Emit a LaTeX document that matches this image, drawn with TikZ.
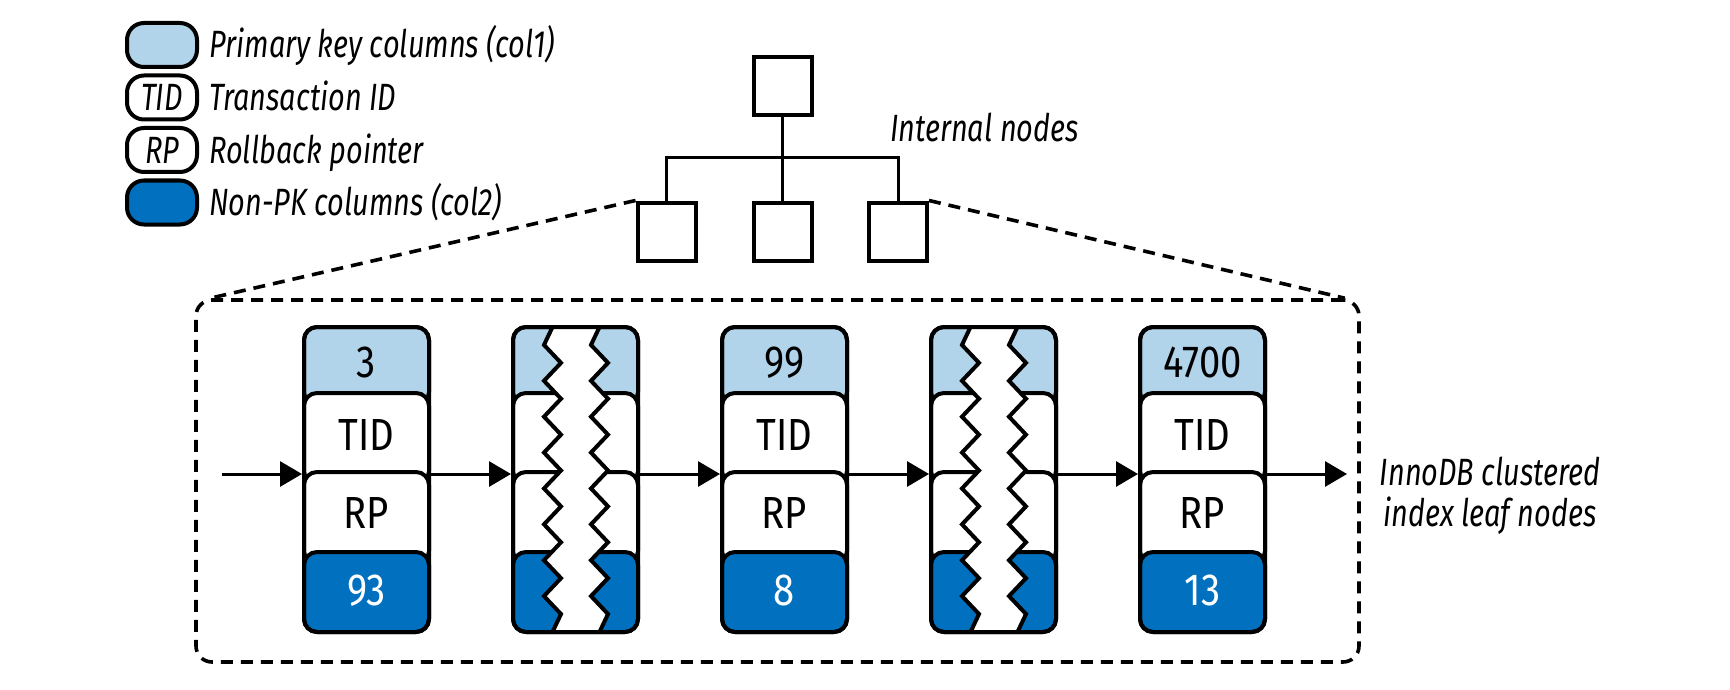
\documentclass[tikz,border=0pt]{standalone}
\usepackage{fontspec}
\setmainfont[FakeStretch=0.85]{Fira Sans}
\newfontfamily\labfam[FakeStretch=0.76]{Fira Sans}
\usetikzlibrary{arrows.meta,positioning}
\definecolor{pkblue}{HTML}{B2D4EB}
\definecolor{colblue}{HTML}{0070BF}
\newcommand{\cellfont}{\fontsize{22.5pt}{25pt}\selectfont}
\newcommand{\labfont}{\labfam\fontsize{19pt}{20.5pt}\selectfont\itshape}

% leaf record: index, left edge, key, col2
\newcommand{\leafrec}[4]{
	\draw[cell, fill=pkblue] (#2,327) rectangle ++(125,78);
	\draw[cell, fill=white] (#2,393) rectangle ++(125,91);
	\draw[cell, fill=white] (#2,472) rectangle ++(125,92);
	\draw[cell, fill=colblue] (#2,552) rectangle ++(125,80);
	\node[rec] (rec#1) at (#2+62.5,479.5) {};
	\node[celltxt] (key#1) at (#2+62.5,362) {#3};
	\node[celltxt] (tid#1) at (#2+62.5,435) {TID};
	\node[celltxt] (rp#1) at (#2+62.5,512.5) {RP};
	\node[celltxt, text=white] (col#1) at (#2+62.5,590) {#4};
}

% record cut out by a zigzag gap: index, left edge
\newcommand{\gaprec}[2]{
	\draw[cell, fill=pkblue] (#2,327) rectangle ++(125,78);
	\draw[cell, fill=white] (#2,393) rectangle ++(125,91);
	\draw[cell, fill=white] (#2,472) rectangle ++(125,92);
	\draw[cell, fill=colblue] (#2,552) rectangle ++(125,80);
	\fill[white] (#2+39.5,327) \foreach \k in {1,...,16} {-- ({#2+ifthenelse(isodd(\k),31,48)},{327+\k*17.94})} -- (#2+39.5,632)
		-- (#2+86.5,632) \foreach \k in {16,...,1} {-- ({#2+ifthenelse(isodd(\k),78,95)},{327+\k*17.94})} -- (#2+86.5,327) -- cycle;
	\draw[zig] (#2+39.5,327) \foreach \k in {1,...,16} {-- ({#2+ifthenelse(isodd(\k),31,48)},{327+\k*17.94})} -- (#2+39.5,632);
	\draw[zig] (#2+86.5,327) \foreach \k in {1,...,16} {-- ({#2+ifthenelse(isodd(\k),78,95)},{327+\k*17.94})} -- (#2+86.5,632);
	\node[rec] (rec#1) at (#2+62.5,479.5) {};
}

\begin{document}
\begin{tikzpicture}[x=0.5pt, y=-0.5pt, every node/.style={inner sep=0pt},
	cell/.style={draw, line width=2pt, rounded corners=6.5pt},
	rec/.style={draw, line width=2pt, rounded corners=6.5pt, minimum width=62.5pt, minimum height=152.5pt},
	celltxt/.style={font=\cellfont, text height=15.5pt, text depth=0pt},
	zig/.style={line width=2pt},
	link/.style={line width=1.5pt, -{Triangle[length=11pt,width=12.5pt]}},
	tnode/.style={draw, line width=2pt, minimum size=29pt},
	branch/.style={line width=1.5pt},
	leafframe/.style={draw, line width=1.8pt, dash pattern=on 6pt off 4pt, rounded corners=8pt, minimum width=581.5pt, minimum height=181pt},
	zoomline/.style={line width=1.8pt, dash pattern=on 6pt off 4pt},
	keybox/.style={draw, line width=2pt, rounded corners=8.5pt, minimum width=35pt, minimum height=22pt, font=\labfont, text height=13pt, text depth=0pt},
	lab/.style={font=\labfont, text height=13pt, text depth=0pt}]
	\useasboundingbox (0,0) rectangle (1730,690);

	% Legend
	\node[keybox, fill=pkblue] (lgpk) at (162,45) {};
	\node[keybox] (lgtid) at (162,97.5) {TID};
	\node[keybox] (lgrp) at (162,150) {RP};
	\node[keybox, fill=colblue] (lgcol) at (162,202.5) {};
	\node[lab, right=5pt of lgpk] (pktxt) {Primary key columns (col1)};
	\node[lab, right=5pt of lgtid] (tidtxt) {Transaction ID};
	\node[lab, right=5pt of lgrp] (rptxt) {Rollback pointer};
	\node[lab, right=5pt of lgcol] (coltxt) {Non-PK columns (col2)};

	% Internal nodes
	\node[tnode] (root) at (782.5,86.5) {};
	\node[tnode] (leafa) at (666.5,231.5) {};
	\node[tnode] (leafb) at (782.5,231.5) {};
	\node[tnode] (leafc) at (898,231.5) {};
	\coordinate (bar) at (782.5,158);
	\draw[branch] (root) -- (leafb);
	\draw[branch] (leafa) |- (bar) -| (leafc);
	\node[lab, anchor=west] (intlab) at (890,128) {Internal nodes};

	% Leaf level
	\node[leafframe] (frame) at (777.5,481) {};
	\draw[zoomline] (leafa.north west) -- ([xshift=8pt]frame.north west);
	\draw[zoomline] (leafc.north east) -- ([xshift=-8pt]frame.north east);

	\leafrec{1}{304}{3}{93}
	\gaprec{2}{513}
	\leafrec{3}{722}{99}{8}
	\gaprec{4}{931}
	\leafrec{5}{1140}{4700}{13}

	% Links
	\coordinate (start) at (222,474);
	\coordinate (stop) at (1347,474);
	\draw[link] (start) -- (start -| rec1.west);
	\foreach \a/\b in {1/2,2/3,3/4,4/5}
		\draw[link] (rec\a.east |- start) -- (rec\b.west |- start);
	\draw[link] (rec5.east |- start) -- (stop);
	\node[font=\labfont, align=center] (leaflab) at (1490,496) {InnoDB clustered\\index leaf nodes};
\end{tikzpicture}
\end{document}
